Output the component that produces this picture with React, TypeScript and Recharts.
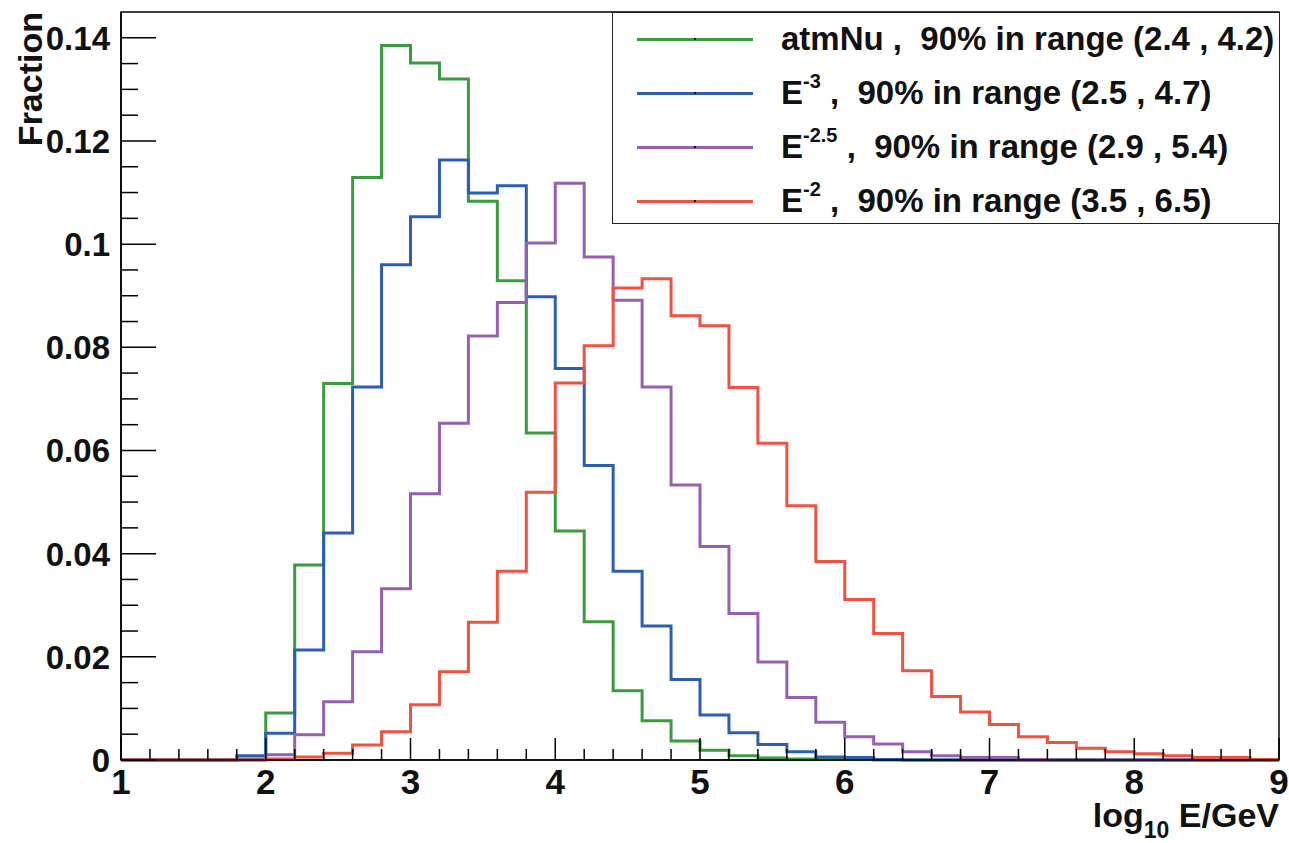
import { LineChart, Line, XAxis, YAxis, ReferenceArea } from 'recharts';

// left bin edges (bin width 0.2) plus the closing edge at 9
const binEdges = [
  1.0, 1.2, 1.4, 1.6, 1.8, 2.0, 2.2, 2.4, 2.6, 2.8,
  3.0, 3.2, 3.4, 3.6, 3.8, 4.0, 4.2, 4.4, 4.6, 4.8,
  5.0, 5.2, 5.4, 5.6, 5.8, 6.0, 6.2, 6.4, 6.6, 6.8,
  7.0, 7.2, 7.4, 7.6, 7.8, 8.0, 8.2, 8.4, 8.6, 8.8, 9.0,
];

const atmNu = [
  0, 0, 0, 0, 0.0002, 0.0091, 0.0378, 0.073, 0.1129, 0.1385,
  0.1351, 0.132, 0.1083, 0.0929, 0.0634, 0.0444, 0.0268, 0.0134, 0.0076, 0.0037,
  0.0019, 0.0008, 0.0004, 0.0002, 0.0002, 0.0001, 0, 0, 0, 0,
  0, 0, 0, 0, 0, 0, 0, 0, 0, 0,
];

const eMinus3 = [
  0, 0, 0, 0, 0.0008, 0.0052, 0.0213, 0.044, 0.0723, 0.096,
  0.1053, 0.1163, 0.1099, 0.1113, 0.0898, 0.0759, 0.0571, 0.0366, 0.026, 0.0156,
  0.0087, 0.0053, 0.003, 0.0016, 0.0006, 0.0005, 0.0001, 0, 0, 0,
  0, 0, 0, 0, 0, 0, 0, 0, 0, 0,
];

const eMinus25 = [
  0, 0, 0, 0, 0, 0.001, 0.0049, 0.0113, 0.021, 0.0332,
  0.0516, 0.0653, 0.0822, 0.0887, 0.1002, 0.1118, 0.0975, 0.0891, 0.0723, 0.0533,
  0.0414, 0.0284, 0.019, 0.0121, 0.0073, 0.0045, 0.0031, 0.0016, 0.0008, 0.0005,
  0.0005, 0.0001, 0, 0, 0, 0, 0, 0, 0, 0,
];

const eMinus2 = [
  0, 0, 0, 0, 0, 0.0002, 0.0006, 0.0013, 0.0029, 0.0055,
  0.0107, 0.0171, 0.0267, 0.0366, 0.0519, 0.0731, 0.0803, 0.0915, 0.0933, 0.0861,
  0.0842, 0.0722, 0.0614, 0.0493, 0.0385, 0.0311, 0.0245, 0.0173, 0.0123, 0.0093,
  0.0069, 0.0045, 0.0034, 0.0023, 0.0016, 0.0012, 0.0008, 0.0005, 0.0005, 0.0001,
];

const xMajorTicks = [1, 2, 3, 4, 5, 6, 7, 8, 9];
const yMajorTicks = [0, 0.02, 0.04, 0.06, 0.08, 0.1, 0.12, 0.14];
const yTickLabels = ['0', '0.02', '0.04', '0.06', '0.08', '0.1', '0.12', '0.14'];

const series = [
  { key: 'atmNu', color: '#3a9c3f', base: 'atmNu', sup: '', range: '(2.4 , 4.2)' },
  { key: 'e3', color: '#2c5fb4', base: 'E', sup: '-3', range: '(2.5 , 4.7)' },
  { key: 'e25', color: '#9660b2', base: 'E', sup: '-2.5', range: '(2.9 , 5.4)' },
  { key: 'e2', color: '#f05140', base: 'E', sup: '-2', range: '(3.5 , 6.5)' },
];

const data = binEdges.map((x, i) => {
  const b = Math.min(i, atmNu.length - 1);
  return { x, atmNu: atmNu[b], e3: eMinus3[b], e25: eMinus25[b], e2: eMinus2[b] };
});

// minor ticks: 0.2 on x, 0.005 on y
const xTicks: number[] = [];
for (let i = 0; i <= 40; i++) xTicks.push(Number((1 + i * 0.2).toFixed(1)));
const yTicks: number[] = [];
for (let i = 0; i <= 28; i++) yTicks.push(Number((i * 0.005).toFixed(3)));

const FONT = '"Liberation Sans", Arial, Helvetica, sans-serif';
const PLOT_LEFT = 121;
const PLOT_BOTTOM = 760;

const renderXTick = (props: any) => {
  const { x, payload } = props;
  const v = payload.value;
  const major = xMajorTicks.some((t) => Math.abs(t - v) < 1e-6);
  return (
    <g key={`xt-${v}`}>
      <line x1={x} x2={x} y1={PLOT_BOTTOM} y2={PLOT_BOTTOM - (major ? 22 : 11)} stroke="#000" strokeWidth={1.5} />
      {major && (
        <text x={x} y={PLOT_BOTTOM + 34} textAnchor="middle" fontFamily={FONT} fontWeight="bold" fontSize={35} fill="#111">
          {v}
        </text>
      )}
    </g>
  );
};

const renderYTick = (props: any) => {
  const { y, payload } = props;
  const v = payload.value;
  const idx = yMajorTicks.findIndex((t) => Math.abs(t - v) < 1e-6);
  const major = idx >= 0;
  return (
    <g key={`yt-${v}`}>
      <line x1={PLOT_LEFT} x2={PLOT_LEFT + (major ? 35 : 17)} y1={y} y2={y} stroke="#000" strokeWidth={1.5} />
      {major && (
        <text x={110} y={y + 12} textAnchor="end" fontFamily={FONT} fontWeight="bold" fontSize={33} fill="#111">
          {yTickLabels[idx]}
        </text>
      )}
    </g>
  );
};

function LegendBox() {
  return (
    <div
      style={{
        position: 'absolute',
        left: 612,
        top: 12,
        width: 668,
        height: 212,
        border: '1.5px solid #222',
        background: '#fff',
        fontFamily: FONT,
        fontWeight: 'bold',
        fontSize: 33,
        color: '#111',
        boxSizing: 'border-box',
      }}
    >
      {series.map((s, i) => (
        <div key={s.key} style={{ position: 'absolute', left: 0, top: 26 + i * 54 - 20, height: 40, display: 'flex', alignItems: 'center', whiteSpace: 'pre' }}>
          <div style={{ position: 'relative', marginLeft: 24, width: 116, height: 3, background: s.color }}>
            <div style={{ position: 'absolute', left: 57, top: 0.5, width: 2, height: 2, background: '#000' }} />
          </div>
          <span style={{ marginLeft: 28 }}>
            {s.base}
            {s.sup && <sup style={{ fontSize: 20, verticalAlign: 'top', position: 'relative', top: -4 }}>{s.sup}</sup>}
            {' ,  90% in range '}
            {s.range}
          </span>
        </div>
      ))}
    </div>
  );
}

export default function App() {
  return (
    <div style={{ position: 'absolute', left: 0, top: 0, width: 1289, height: 843, background: '#fff' }}>
      <LineChart width={1289} height={843} data={data} margin={{ top: 12, right: 10, bottom: 82, left: 120 }}>
        <ReferenceArea x1={1} x2={9} y1={0} y2={0.145} fill="none" stroke="#000" strokeWidth={1.5} ifOverflow="visible" />
        <XAxis
          type="number"
          dataKey="x"
          domain={[1, 9]}
          ticks={xTicks}
          interval={0}
          height={1}
          tickSize={0}
          tickMargin={0}
          tickLine={false}
          axisLine={{ stroke: '#000', strokeWidth: 1.5 }}
          tick={renderXTick}
        />
        <YAxis
          type="number"
          domain={[0, 0.145]}
          ticks={yTicks}
          interval={0}
          width={1}
          tickSize={0}
          tickMargin={0}
          tickLine={false}
          axisLine={{ stroke: '#000', strokeWidth: 1.5 }}
          tick={renderYTick}
        />
        {series.map((s) => (
          <Line
            key={s.key}
            type="stepAfter"
            dataKey={s.key}
            stroke={s.color}
            strokeWidth={3}
            dot={false}
            isAnimationActive={false}
          />
        ))}
        <text x={42} y={12} transform="rotate(-90 42 12)" textAnchor="end" fontFamily={FONT} fontWeight="bold" fontSize={34} fill="#111">
          Fraction
        </text>
        <text x={1279} y={827} textAnchor="end" fontFamily={FONT} fontWeight="bold" fontSize={34} fill="#111">
          log
          <tspan fontSize={23} dy={11}>10</tspan>
          <tspan dy={-11}>{'\u00a0E/GeV'}</tspan>
        </text>
      </LineChart>
      <LegendBox />
    </div>
  );
}
